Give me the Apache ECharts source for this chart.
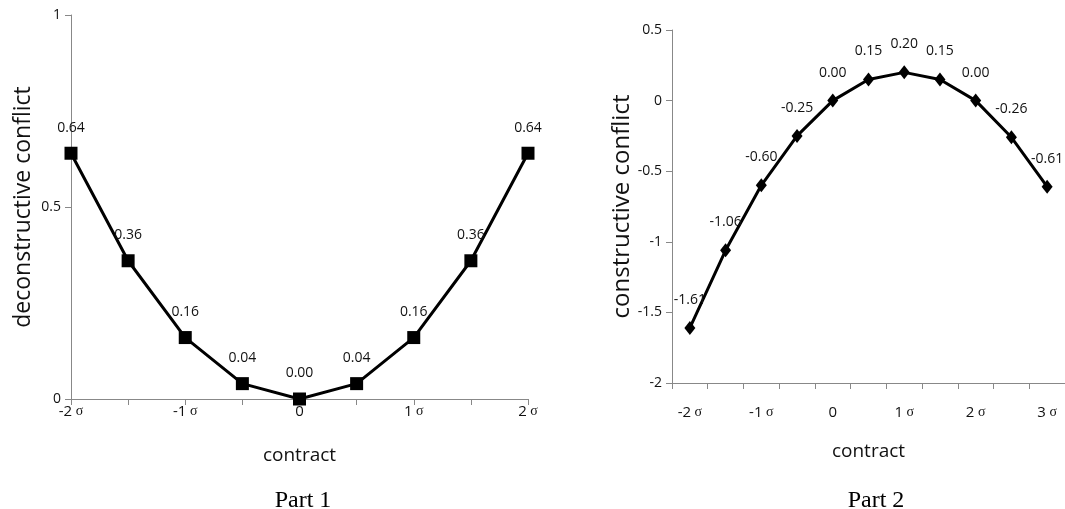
<!DOCTYPE html>
<html>
<head>
<meta charset="utf-8">
<script src="https://cdn.jsdelivr.net/npm/echarts@6/dist/echarts.min.js"></script>
<style>html,body{margin:0;padding:0;background:#fff}#c{width:1065px;height:509px}</style>
</head>
<body>
<div id="c"></div>
<script>
// Part 1 data
var categories1 = ['-2σ','-1.5σ','-1σ','-0.5σ','0','0.5σ','1σ','1.5σ','2σ'];
var values1 = [0.64, 0.36, 0.16, 0.04, 0.00, 0.04, 0.16, 0.36, 0.64];
var yTicks1 = {min: 0, max: 1, interval: 0.5};
// Part 2 data
var categories2 = ['-2σ','-1.5σ','-1σ','-0.5σ','0','0.5σ','1σ','1.5σ','2σ','2.5σ','3σ'];
var values2 = [-1.61, -1.06, -0.60, -0.25, 0.00, 0.15, 0.20, 0.15, 0.00, -0.26, -0.61];
var yTicks2 = {min: -2, max: 0.5, interval: 0.5};

var FONT = 'Open Sans';
function sigmaFmt(v) {
  if (v.indexOf('σ') >= 0) return '{n|' + v.replace('σ','') + '}{s| σ}';
  return '{n|' + v + '}';
}
var rich = {
  n: {fontFamily: FONT, fontSize: 15, color: '#111'},
  s: {fontFamily: 'Liberation Serif', fontSize: 14, color: '#111'}
};
function xAxis(idx, cats, gap, margin, nameGap) {
  return {
    type: 'category', gridIndex: idx, data: cats, boundaryGap: gap,
    name: 'contract', nameLocation: 'middle', nameGap: nameGap,
    nameTextStyle: {fontFamily: FONT, fontSize: 19, color: '#111'},
    axisLine: {onZero: false, lineStyle: {color: '#888', width: 1}},
    axisTick: {show: true, interval: 0, length: 6, lineStyle: {color: '#888'}},
    axisLabel: {interval: 1, margin: margin, formatter: sigmaFmt, rich: rich},
    splitLine: {show: false}
  };
}
function yAxis(idx, t, name, nameGap, nameSize) {
  return {
    type: 'value', gridIndex: idx, min: t.min, max: t.max, interval: t.interval,
    name: name, nameLocation: 'middle', nameGap: nameGap,
    nameTextStyle: {fontFamily: FONT, fontSize: nameSize, color: '#111'},
    axisLine: {show: true, onZero: false, lineStyle: {color: '#888', width: 1}},
    axisTick: {show: true, length: 6, lineStyle: {color: '#888'}},
    axisLabel: {fontFamily: FONT, fontSize: 14, color: '#111', margin: 10},
    splitLine: {show: false}
  };
}
var chart = echarts.init(document.getElementById('c'), null, {renderer: 'canvas'});
chart.setOption({
  animation: false,
  backgroundColor: '#fff',
  title: [
    {text: 'Part 1', left: 298, top: 484, textAlign: 'center',
     textStyle: {fontFamily: 'Liberation Serif', fontSize: 24, fontWeight: 'normal', color: '#000'}},
    {text: 'Part 2', left: 871, top: 484, textAlign: 'center',
     textStyle: {fontFamily: 'Liberation Serif', fontSize: 24, fontWeight: 'normal', color: '#000'}}
  ],
  grid: [
    {left: 71, top: 15, width: 457, height: 384},
    {left: 672, top: 30, width: 398, height: 353}
  ],
  xAxis: [xAxis(0, categories1, false, 5, 47), xAxis(1, categories2, true, 22, 59)],
  yAxis: [yAxis(0, yTicks1, 'deconstructive conflict', 36, 23), yAxis(1, yTicks2, 'constructive conflict', 32, 24)],
  series: [
    {type: 'line', xAxisIndex: 0, yAxisIndex: 0, data: values1,
     symbol: 'rect', symbolSize: 13,
     lineStyle: {color: '#000', width: 3}, itemStyle: {color: '#000'},
     label: {show: true, position: 'top', distance: 12, fontFamily: FONT, fontSize: 14, color: '#111',
             formatter: function (p) { return p.value.toFixed(2); }}},
    {type: 'line', xAxisIndex: 1, yAxisIndex: 1, data: values2,
     symbol: 'diamond', symbolSize: [11, 14],
     lineStyle: {color: '#000', width: 3}, itemStyle: {color: '#000'},
     label: {show: true, position: 'top', distance: 14, fontFamily: FONT, fontSize: 14, color: '#111',
             formatter: function (p) { return p.value.toFixed(2); }}}
  ]
});
</script>
</body>
</html>
